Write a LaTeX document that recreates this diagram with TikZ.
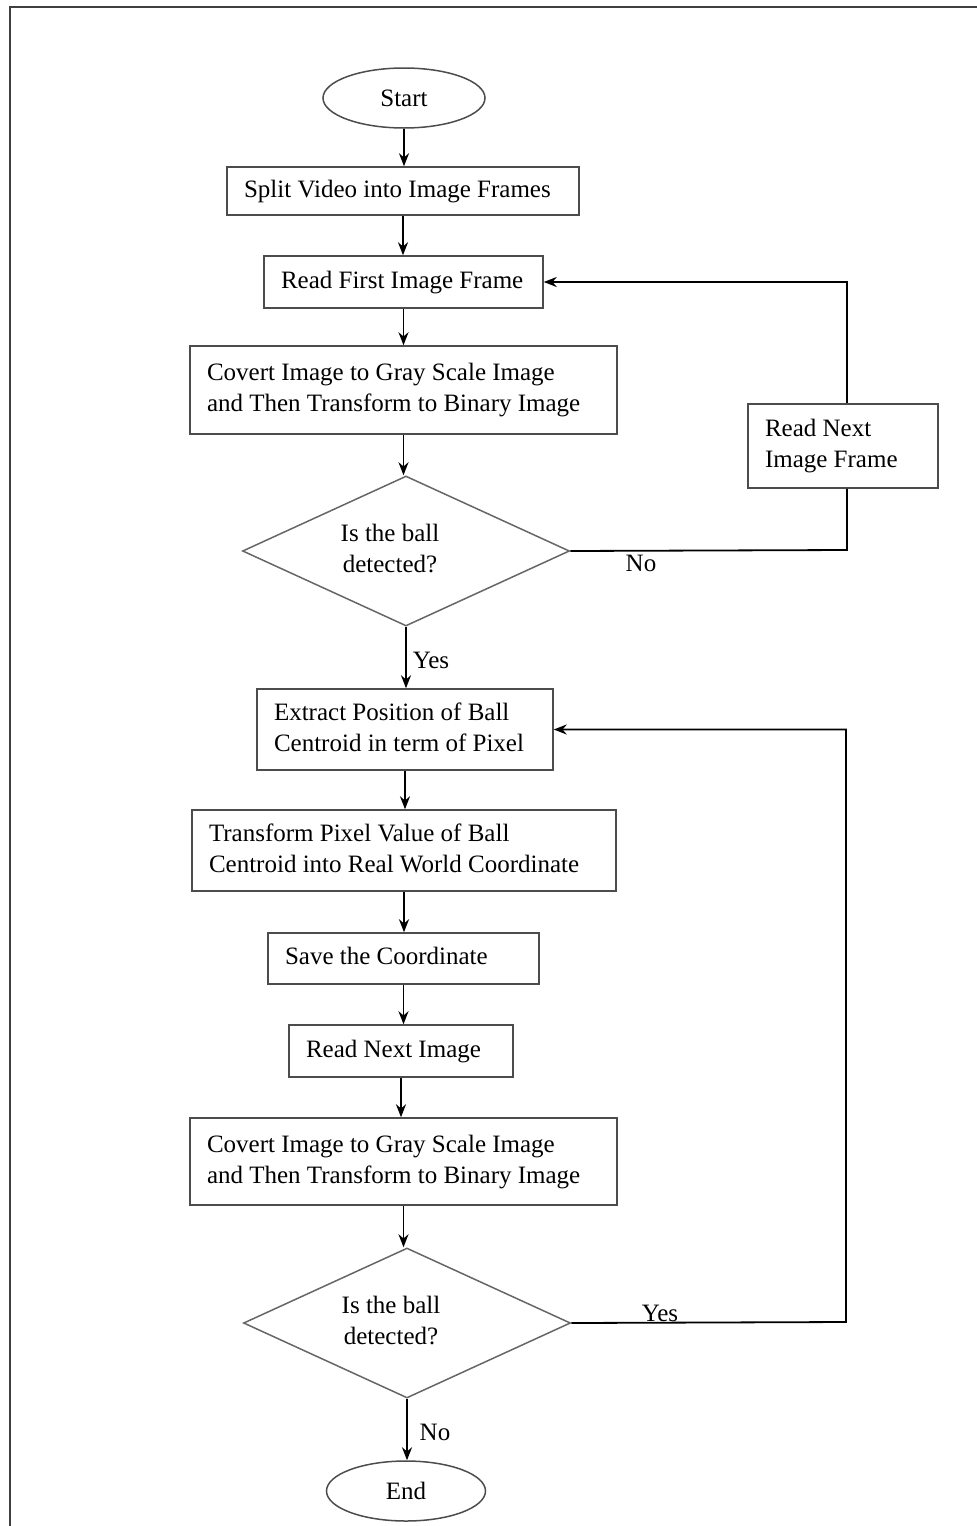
\documentclass[tikz,border=0pt]{standalone}
\usepackage{fontspec}
\setmainfont{Liberation Serif}
\usetikzlibrary{shapes.geometric,arrows.meta}
\newcommand{\ltext}[2]{\makebox[#1][l]{\begin{tabular}{@{}l@{}}#2\end{tabular}}}
\newcommand{\dtext}[1]{\begin{tabular}{@{}c@{}}#1\end{tabular}\hspace*{32pt}}
\begin{document}
\begin{tikzpicture}[x=1pt,y=-1pt,
  font=\fontsize{25}{31}\selectfont,
  boxst/.style={draw=black!70,line width=1.5pt,rectangle,inner xsep=17pt,inner ysep=0pt,anchor=center},
  termst/.style={draw=black!70,line width=1.5pt,ellipse,inner sep=0pt,minimum width=162pt,minimum height=60pt},
  decst/.style={draw=black!60,line width=1.5pt,diamond,inner sep=0pt,minimum width=327pt,minimum height=150pt,aspect=2.18},
  arr/.style={line width=1.8pt,-{Stealth[length=13pt,width=10pt]}},
  ln/.style={line width=1.8pt},
  lbl/.style={inner sep=0pt}]
\useasboundingbox (0,0) rectangle (977,1526);
\draw[line width=2.2pt,black!75] (10,1526) -- (10,7) -- (977,7);

\node[termst] (start) at (404,98) {Start};
\node[boxst,minimum height=48pt] (split) at (403,191) {\ltext{318pt}{Split Video into Image Frames}};
\node[boxst,minimum height=52pt] (rf) at (403.5,282) {\ltext{245pt}{Read First Image Frame}};
\node[boxst,minimum height=88pt] (cv1) at (403.5,390) {\ltext{393pt}{Covert Image to Gray Scale Image\\and Then Transform to Binary Image}};
\node[decst] (d1) at (406,551) {\dtext{Is the ball\\detected?}};
\node[boxst,minimum height=84pt] (rn) at (843,446) {\ltext{156pt}{Read Next\\Image Frame}};
\node[boxst,minimum height=81pt] (ex) at (405,729.5) {\ltext{262pt}{Extract Position of Ball\\Centroid in term of Pixel}};
\node[boxst,minimum height=81pt] (tr) at (404,850.5) {\ltext{390pt}{Transform Pixel Value of Ball\\Centroid into Real World Coordinate}};
\node[boxst,minimum height=51pt] (sv) at (403.5,958.5) {\ltext{237pt}{Save the Coordinate}};
\node[boxst,minimum height=52pt] (rni) at (401,1051) {\ltext{190pt}{Read Next Image}};
\node[boxst,minimum height=87pt] (cv2) at (403.5,1161.5) {\ltext{393pt}{Covert Image to Gray Scale Image\\and Then Transform to Binary Image}};
\node[decst] (d2) at (407,1323) {\dtext{Is the ball\\detected?}};
\node[termst,minimum width=159pt] (end) at (406,1491) {End};

\coordinate (c1) at (847,550);
\coordinate (c2) at (846,1322);

\draw[arr] (start.south) -- (start.south |- split.north);
\draw[arr] (split.south) -- (split.south |- rf.north);
\draw[arr] (rf.south) -- (rf.south |- cv1.north);
\draw[arr] (cv1.south) -- (cv1.south |- d1.north);
\draw[ln] (d1.east) -- (c1) -- (c1 |- rn.south);
\draw[arr] (c1 |- rn.north) |- (rf.east);
\draw[arr] (d1.south) -- (d1.south |- ex.north);
\draw[arr] (ex.south) -- (ex.south |- tr.north);
\draw[arr] (tr.south) -- (tr.south |- sv.north);
\draw[arr] (sv.south) -- (sv.south |- rni.north);
\draw[arr] (rni.south) -- (rni.south |- cv2.north);
\draw[arr] (cv2.south) -- (cv2.south |- d2.north);
\draw[arr] (d2.east) -- (c2) |- (ex.east);
\draw[arr] (d2.south) -- (d2.south |- end.north);

\node[lbl] (no1) at (641,563) {No};
\node[lbl] (yes1) at (431,660) {Yes};
\node[lbl] (yes2) at (660,1313) {Yes};
\node[lbl] (no2) at (435,1432) {No};
\end{tikzpicture}
\end{document}
